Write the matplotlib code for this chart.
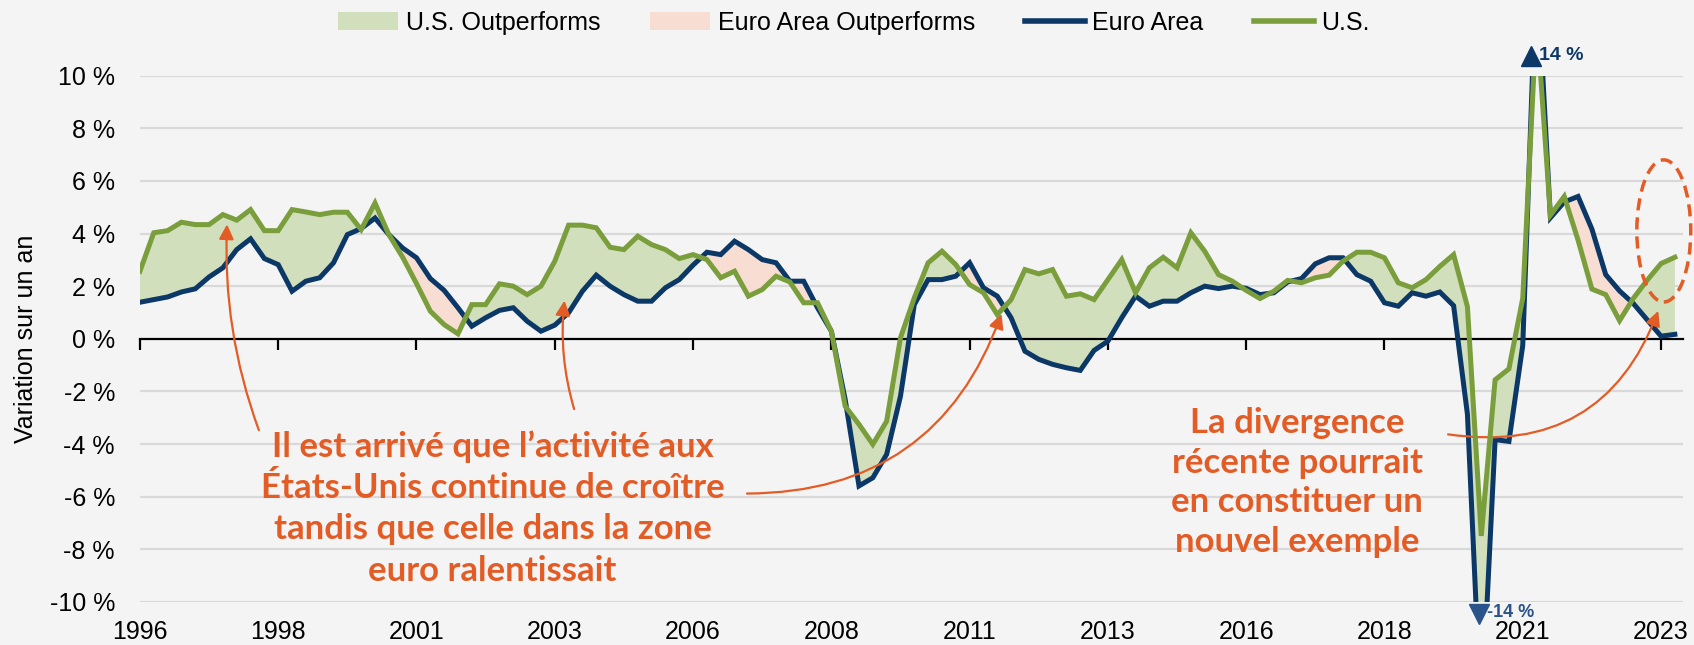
import numpy as np
import matplotlib
matplotlib.use("Agg")
import matplotlib.pyplot as plt
from matplotlib.patches import Patch, Ellipse
from matplotlib.lines import Line2D

# quarterly y/y growth, 1996Q1 .. 2023Q4
us = [2.57, 4.03, 4.11, 4.43, 4.34, 4.34, 4.72, 4.51, 4.91, 4.11,
      4.11, 4.91, 4.82, 4.72, 4.81, 4.81, 4.15, 5.16, 3.96, 3.10,
      2.10, 1.05, 0.54, 0.19, 1.30, 1.30, 2.09, 2.00, 1.68, 2.00,
      2.95, 4.32, 4.32, 4.22, 3.48, 3.39, 3.90, 3.58, 3.39, 3.05,
      3.20, 3.01, 2.32, 2.57, 1.62, 1.87, 2.38, 2.16, 1.37, 1.37,
      0.29, -2.56, -3.25, -4.01, -3.13, 0.04, 1.56, 2.89, 3.33, 2.82,
      2.06, 1.75, 0.92, 1.49, 2.63, 2.47, 2.63, 1.62, 1.71, 1.49,
      2.25, 3.01, 1.75, 2.70, 3.10, 2.70, 4.03, 3.33, 2.44, 2.19,
      1.84, 1.53, 1.81, 2.22, 2.13, 2.32, 2.42, 2.95, 3.29, 3.29,
      3.08, 2.13, 1.94, 2.25, 2.75, 3.20, 1.22, -7.49, -1.56, -1.14,
      1.54, 12.2, 4.70, 5.41, 3.75, 1.89, 1.68, 0.69, 1.54, 2.23,
      2.86, 3.10]
euro = [1.39, 1.49, 1.59, 1.78, 1.90, 2.35, 2.70, 3.39, 3.80, 3.05,
        2.82, 1.81, 2.19, 2.32, 2.89, 3.96, 4.19, 4.59, 3.96, 3.45,
        3.08, 2.29, 1.84, 1.18, 0.48, 0.80, 1.08, 1.18, 0.67, 0.29,
        0.52, 0.99, 1.81, 2.42, 2.00, 1.68, 1.43, 1.43, 1.94, 2.25,
        2.80, 3.29, 3.20, 3.71, 3.39, 3.01, 2.89, 2.19, 2.19, 1.18,
        0.29, -2.30, -5.59, -5.28, -4.39, -2.18, 1.30, 2.25, 2.25, 2.38,
        2.89, 1.94, 1.62, 0.80, -0.47, -0.78, -0.97, -1.10, -1.20, -0.44,
        -0.09, 0.80, 1.62, 1.24, 1.43, 1.43, 1.75, 2.00, 1.91, 2.00,
        1.92, 1.68, 1.75, 2.16, 2.29, 2.85, 3.08, 3.08, 2.44, 2.19,
        1.37, 1.24, 1.75, 1.62, 1.78, 1.26, -2.87, -14.5, -3.83, -3.90,
        -0.25, 14.4, 4.60, 5.20, 5.41, 4.17, 2.44, 1.82, 1.34, 0.72,
        0.10, 0.17]
tick_labels = ["1996", "1998", "2001", "2003", "2006", "2008",
               "2011", "2013", "2016", "2018", "2021", "2023"]
y_ticks = [-10, -8, -6, -4, -2, 0, 2, 4, 6, 8, 10]

navy = "#0b3866"
green = "#7a9e3c"
green_fill = "#d1dfbc"
pink_fill = "#f8ddd3"
orange = "#e35b25"
bg = "#f4f4f4"

plt.rcParams['font.family'] = ['Liberation Sans', 'DejaVu Sans']

x = np.arange(len(us))
us = np.array(us)
euro = np.array(euro)

fig = plt.figure(figsize=(16.94, 6.45), dpi=100, facecolor=bg)
ax = fig.add_axes([0.0826, 0.0667, 0.911, 0.816], facecolor=bg)

ax.fill_between(x, euro, us, where=us >= euro, interpolate=True,
                color=green_fill, lw=0, zorder=1)
ax.fill_between(x, euro, us, where=us < euro, interpolate=True,
                color=pink_fill, lw=0, zorder=1)
ax.plot(x, euro, color=navy, lw=3.6, zorder=3, solid_joinstyle='miter')
ax.plot(x, us, color=green, lw=3.6, zorder=4, solid_joinstyle='miter')

ax.set_xlim(0, 111.6)
ax.set_ylim(-10, 10)
ax.set_yticks(y_ticks)
ax.set_yticklabels([f"{v} %" for v in y_ticks], fontsize=18)
ax.tick_params(axis='y', length=0, pad=18)
for v in y_ticks:
    if v != 0:
        ax.axhline(v, color="#d9d9d9", lw=1.6, zorder=0)

for s in ['top', 'right', 'left']:
    ax.spines[s].set_visible(False)
ax.spines['bottom'].set_position(('data', 0))
ax.spines['bottom'].set_linewidth(1.6)
ax.spines['bottom'].set_zorder(2.5)
tick_pos = np.arange(0, len(us), 10)
ax.set_xticks(tick_pos)
ax.set_xticklabels([])
ax.tick_params(axis='x', direction='out', length=8, width=1.6)

lab = ax.secondary_xaxis('bottom')
lab.set_xticks(tick_pos, labels=tick_labels)
lab.tick_params(length=0, pad=13, labelsize=18)
lab.spines['bottom'].set_visible(False)

ax.set_ylabel("Variation sur un an", fontsize=18, labelpad=8)

# off-scale markers
ax.plot([100.6], [10.75], marker='^', ms=14, color=navy, clip_on=False, zorder=5)
ax.text(101.2, 10.75, "14 %", color=navy, fontsize=14, fontweight='bold',
        va='center', ha='left')
ax.plot([96.8], [-10.45], marker='v', ms=14, color="#2a5389", clip_on=False, zorder=5)
ax.text(97.4, -10.4, "-14 %", color="#2a5389", fontsize=13, fontweight='bold',
        va='center', ha='left')

# annotations
ax.text(25.5, -6.45, "Il est arrivé que l\u2019activité aux\nÉtats-Unis continue de croître\n"
        "tandis que celle dans la zone\neuro ralentissait",
        ha='center', va='center', fontsize=25, fontweight='bold', color=orange,
        family='Lato', linespacing=1.35)
ax.text(83.7, -5.46, "La divergence\nrécente pourrait\nen constituer un\nnouvel exemple",
        ha='center', va='center', fontsize=25, fontweight='bold', color=orange,
        family='Lato', linespacing=1.3)

arrow = dict(arrowstyle='-|>', color=orange, lw=1.6, mutation_scale=22, shrinkA=0, shrinkB=0)
ax.annotate("", xy=(6.3, 4.35), xytext=(8.6, -3.47),
            arrowprops=dict(arrow, connectionstyle='arc3,rad=-0.1'))
ax.annotate("", xy=(30.7, 1.45), xytext=(31.4, -2.67),
            arrowprops=dict(arrow, connectionstyle='arc3,rad=-0.1'))
ax.annotate("", xy=(62.3, 0.95), xytext=(43.9, -5.88),
            arrowprops=dict(arrow, connectionstyle='arc3,rad=0.35'))
ax.annotate("", xy=(109.8, 1.06), xytext=(94.6, -3.63),
            arrowprops=dict(arrow, connectionstyle='arc3,rad=0.4'))

ax.add_patch(Ellipse((110.2, 4.1), 3.9, 5.4, fill=False, edgecolor=orange,
                     lw=2.5, ls=(0, (3.5, 2)), clip_on=False, zorder=6))

handles = [Patch(facecolor=green_fill), Patch(facecolor=pink_fill),
           Line2D([], [], color=navy, lw=4), Line2D([], [], color=green, lw=4)]
fig.legend(handles, ["U.S. Outperforms", "Euro Area Outperforms", "Euro Area", "U.S."],
           loc='upper center', bbox_to_anchor=(0.504, 1.018), ncol=4, frameon=False,
           fontsize=18, handlelength=2.4, handletextpad=0.3, columnspacing=2.0)

fig.savefig("out.png", dpi=100, facecolor=bg)
